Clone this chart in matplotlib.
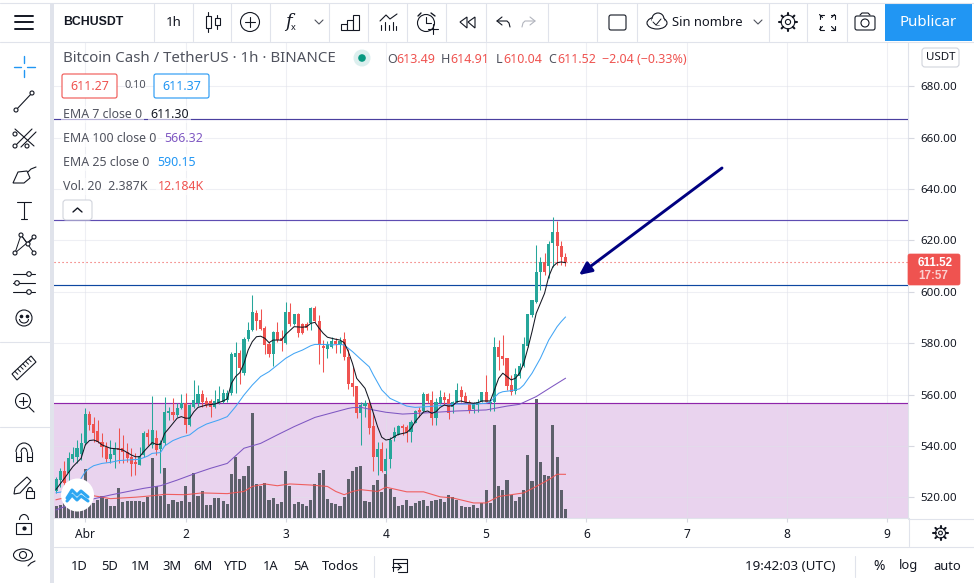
import numpy as np
import matplotlib
matplotlib.use("Agg")
import matplotlib.pyplot as plt
from matplotlib.patches import Rectangle, Circle, FancyBboxPatch, Polygon, Ellipse, Arc

plt.rcParams['font.family'] = ['Noto Sans', 'DejaVu Sans']

# hourly candles, hour 0 = 1 April 00:00 UTC, first candle is hour -7
first_hour = -7
candle_open = [522.6,526.7,530.2,529.3,534.8,535.8,536.9,541.0,552.4,548.5,
    545.8,541.7,539.7,534.8,536.5,539.1,539.1,537.8,535.8,533.9,
    532.6,536.5,545.2,540.4,543.0,538.7,541.0,552.7,553.2,551.9,
    554.8,556.6,548.2,555.0,556.8,560.2,557.3,557.5,555.3,556.8,
    557.2,557.9,560.5,574.5,576.3,568.3,581.5,585.1,591.9,589.0,
    585.8,579.7,575.8,584.5,581.9,579.9,592.1,587.4,591.2,587.4,
    587.4,587.7,593.5,588.7,579.0,577.9,578.6,580.8,579.3,581.5,
    574.7,564.4,563.3,552.7,555.5,556.6,547.8,535.8,538.7,530.4,
    534.8,543.0,544.3,547.8,547.2,545.3,549.1,554.0,553.7,560.2,
    557.9,550.8,556.6,559.2,558.3,555.0,557.1,561.8,559.4,557.2,
    554.3,555.9,557.2,561.0,556.6,557.2,578.4,575.0,574.1,563.7,
    561.5,567.2,571.2,579.0,591.0,596.1,607.5,611.7,610.1,618.8,
    623.1,617.9,613.49]
candle_close = [527.0,530.2,525.5,535.4,536.9,539.1,541.3,552.4,548.2,544.9,
    541.4,539.5,534.8,536.9,538.9,538.4,537.5,535.2,533.0,533.0,
    536.1,545.2,543.6,546.2,538.4,541.0,553.2,553.7,552.0,554.8,
    556.6,548.2,556.0,557.9,560.2,557.1,555.9,555.3,557.5,558.3,
    560.7,560.7,575.7,576.3,570.2,581.6,585.1,592.1,588.7,585.4,
    579.3,575.6,584.5,581.2,581.0,592.2,587.4,591.2,584.1,583.8,
    586.0,593.8,588.7,579.7,578.0,579.7,581.0,579.7,581.0,574.7,
    564.1,563.1,552.7,556.0,556.6,546.8,535.8,538.7,530.2,534.8,
    542.3,545.3,547.8,546.8,545.2,549.4,553.7,553.2,560.2,557.5,
    550.8,557.0,559.2,557.9,552.7,557.2,561.8,559.2,557.2,554.0,
    556.3,557.2,561.0,557.2,557.2,578.4,574.7,573.7,563.3,561.1,
    568.0,571.1,579.7,591.3,596.8,607.8,611.4,607.8,618.6,623.1,
    617.8,613.4,611.52]
candle_high = [528.0,531.5,534.1,537.8,539.7,542.3,544.9,554.6,553.7,551.4,
    550.1,544.9,541.7,542.3,541.7,546.8,544.3,541.0,539.1,537.1,
    539.7,546.0,546.5,559.4,546.2,542.3,559.2,555.3,558.5,556.6,
    560.1,560.5,556.3,565.7,563.6,561.8,559.2,558.1,561.8,563.5,
    562.3,561.8,576.7,580.3,577.3,582.3,588.4,598.7,592.9,593.3,
    586.7,580.6,584.9,588.4,585.1,596.0,595.7,591.2,591.6,588.0,
    588.4,593.9,594.5,590.9,581.2,581.0,582.5,582.1,582.3,584.5,
    577.6,570.8,563.3,557.2,557.9,557.9,552.7,541.7,541.7,539.1,
    543.4,547.5,548.2,548.5,548.2,550.1,554.0,555.0,561.1,560.7,
    561.5,558.8,561.8,561.1,560.7,557.6,564.6,563.3,561.1,557.9,
    557.2,558.1,561.0,567.6,558.1,582.3,581.2,583.2,574.1,567.6,
    570.2,572.1,582.5,591.3,596.8,618.2,613.6,614.9,619.9,629.2,
    627.7,619.9,614.91]
candle_low = [521.6,524.2,524.2,525.5,533.9,533.2,534.5,540.4,546.2,541.7,
    541.0,535.8,533.9,533.2,531.5,533.2,533.2,533.9,528.3,528.7,
    532.6,535.8,540.4,539.1,536.5,529.6,540.4,550.1,550.1,551.4,
    554.3,544.9,547.8,554.6,555.5,555.3,555.0,551.4,554.6,556.3,
    556.6,557.2,559.8,560.5,564.1,567.6,581.0,584.9,585.1,585.1,
    575.8,574.5,571.1,580.6,577.1,579.7,586.7,587.0,582.3,583.6,
    585.1,585.1,588.4,571.9,568.9,574.1,578.0,576.3,576.0,573.4,
    562.2,559.4,550.8,540.4,551.4,544.7,530.4,528.7,530.0,529.1,
    531.3,542.1,544.3,544.3,541.7,541.7,548.8,551.1,553.2,556.6,
    548.2,548.2,556.3,556.0,550.4,552.7,556.6,557.2,556.6,552.9,
    552.7,553.3,557.0,557.0,553.7,553.7,569.6,571.5,561.8,559.8,
    560.2,566.3,570.8,578.6,590.3,595.8,600.7,606.5,605.2,609.8,
    610.4,610.4,610.04]
volume = [3.3,3.7,4.7,5.1,6.0,7.0,7.9,13.7,7.0,4.2,
    5.1,6.0,5.3,3.3,3.3,8.4,4.4,4.8,4.8,4.8,
    4.7,4.5,5.8,16.7,8.8,6.2,14.0,4.0,5.1,4.4,
    4.8,8.8,4.5,12.6,6.0,7.6,3.5,3.5,5.6,5.6,
    4.7,3.9,12.4,17.0,11.0,11.8,14.4,29.3,9.6,9.0,
    9.8,5.1,5.6,4.0,4.4,13.2,9.0,4.0,4.4,4.0,
    3.4,5.1,9.6,12.6,13.5,5.4,4.2,4.0,3.4,5.8,
    11.0,13.2,14.1,14.4,4.8,4.4,9.3,10.7,7.2,12.4,
    8.1,5.8,3.3,3.5,5.1,3.3,4.2,4.7,5.1,3.4,
    4.8,5.1,5.4,4.4,6.5,5.8,5.1,3.4,3.0,3.0,
    3.5,2.9,4.2,7.9,4.2,26.0,9.0,7.9,10.7,6.5,
    4.8,5.8,7.9,17.7,10.4,33.3,15.7,11.9,11.6,26.0,
    16.9,7.9,2.387]

# moving averages: candle number, value
ema7_idx = [0,2,4,6,7,8,9,10,11,13,15,16,18,19,20,21,23,24,25,26,27,29,30,31,32,33,34,36,38,40,41,42,43,44,45,46,47,48,49,50,51,52,54,55,56,57,59,60,61,62,63,64,65,67,68,69,70,71,
    72,73,74,75,76,77,78,79,80,81,82,84,85,86,87,88,89,90,91,92,93,94,95,96,97,98,100,101,102,104,105,106,107,108,109,110,111,112,113,114,115,116,117,118,119,120,121,122]
ema7 = [523.1,527.4,531.9,535.2,540.4,542.1,542.3,541.7,540.4,539.1,538.8,538.4,536.5,535.8,535.8,537.8,541.3,540.6,540.6,544.9,546.8,550.8,551.4,550.8,550.8,553.3,555.0,555.9,556.3,557.5,558.3,564.4,567.0,568.5,572.1,577.3,580.6,582.5,582.7,581.9,580.2,581.2,581.2,583.4,584.9,586.4,586.2,586.4,587.7,588.1,585.8,583.8,582.3,581.5,581.2,580.2,576.7,572.1,
    566.3,564.4,562.4,557.9,552.7,547.5,543.4,542.3,542.6,543.6,544.5,545.2,546.8,549.4,551.4,553.2,553.6,552.7,553.3,555.0,555.9,555.5,555.7,557.2,557.5,557.0,556.6,556.8,557.5,557.5,561.8,566.3,568.3,567.0,565.7,566.3,568.3,572.1,578.0,584.5,591.6,595.5,599.4,605.9,609.8,611.3,611.6,611.30]
ema25_idx = [0,5,6,7,8,9,11,13,15,17,20,22,23,25,26,28,30,32,34,36,39,41,43,45,47,49,51,53,55,57,59,61,62,64,66,68,69,71,73,75,76,78,80,82,84,86,89,92,96,100,103,104,106,107,109,111,112,114,116,118,120,121,122]
ema25 = [521.8,522.9,527.4,530.0,531.3,532.3,533.2,533.6,534.3,534.5,534.8,536.1,537.1,537.4,540.0,542.1,543.4,544.3,546.8,548.5,550.1,551.4,555.3,559.8,563.7,567.0,568.9,571.5,574.1,576.0,577.3,579.0,579.5,579.5,579.3,579.5,579.3,576.7,573.7,570.8,567.6,561.8,558.5,557.0,555.5,555.0,555.3,555.7,556.3,556.3,556.6,557.2,560.5,561.1,561.5,562.2,563.7,568.3,574.1,581.2,586.4,588.4,590.15]
ema100_idx = [0,3,9,13,17,21,25,29,33,37,41,45,49,53,57,62,67,70,71,73,76,79,83,89,96,103,108,111,115,119,122]
ema100 = [515.1,517.0,519.4,520.9,522.2,523.5,524.5,526.7,529.1,531.3,533.2,539.1,541.0,544.3,547.5,551.1,553.3,554.6,554.9,555.0,554.0,553.1,552.4,552.9,553.6,554.0,555.5,556.2,559.2,563.3,566.32]
vol_ma_idx = [0,3,9,13,19,23,26,31,35,41,45,47,50,53,56,61,65,67,69,71,73,77,79,84,88,92,95,100,103,106,109,112,115,118,120,122]
vol_ma = [5.1,5.9,6.2,5.4,5.8,6.2,6.6,6.5,7.0,6.8,7.4,8.8,9.5,9.0,9.5,9.2,8.8,7.4,6.5,7.4,7.9,7.4,8.6,7.3,7.3,5.9,5.6,4.2,4.2,6.0,6.5,7.0,8.8,10.7,12.2,12.184]

price_ticks = [520, 540, 560, 580, 600, 620, 640, 660, 680]
day_labels = ["Abr", "2", "3", "4", "5", "6", "7", "8", "9"]
hlines = [(667.1, "#4a3f9f"), (627.8, "#5e4db2"), (602.8, "#0d47a1")]
zone_top = 556.6
last_price = 611.52

C_UP = "#26a69a"
C_DOWN = "#ef5350"
C_TXT = "#131722"
C_GREY = "#50535e"
C_LINE = "#e0e3eb"
ILW = 0.8

fig = plt.figure(figsize=(9.74, 5.83), dpi=100)
W, H = 974, 583
box = [54 / W, 1 - 518 / H, (908 - 54) / W, (518 - 42) / H]

hours = first_hour + np.arange(len(candle_open))
opens, closes = np.array(candle_open), np.array(candle_close)
highs, lows = np.array(candle_high), np.array(candle_low)
up = closes >= opens
xlim = (-7.5, 197.05)
ylim = (511.95, 697.2)

# back axes: grid, zone, price and date scale
ax = fig.add_axes(box)
ax.set_xlim(xlim)
ax.set_ylim(ylim)
ax.axhspan(ylim[0], zone_top, color="#e9d3ee", lw=0, zorder=2)
ax.set_yticks(price_ticks)
ax.set_yticklabels(["%.2f" % p for p in price_ticks])
ax.yaxis.tick_right()
ax.set_xticks(np.arange(len(day_labels)) * 24)
ax.set_xticklabels(day_labels)
ax.grid(True, color="#dfe1ea", alpha=0.5, lw=0.8, zorder=3)
ax.set_axisbelow(False)
ax.tick_params(axis="y", length=4, width=0.8, color="#d6d8e0", labelsize=8.3, labelcolor=C_TXT, pad=5)
ax.tick_params(axis="x", length=3, width=0.8, color="#d6d8e0", labelsize=8.6, labelcolor=C_TXT, pad=4)
for name, sp in ax.spines.items():
    sp.set_visible(name in ("right", "bottom"))
    sp.set_color(C_LINE)
    sp.set_linewidth(0.8)

# volume
vol_ax = fig.add_axes(box)
vol_ax.patch.set_visible(False)
vol_ax.axis("off")
vol_ax.set_xlim(xlim)
vol_ax.set_ylim(0, 132.8)
vol_ax.bar(hours, volume, width=0.74, color="#5d606b", lw=0)
vol_ax.plot(np.array(vol_ma_idx) + first_hour, vol_ma, color="#ef5350", lw=0.8, alpha=0.9)

# candles, lines
pax = fig.add_axes(box)
pax.patch.set_visible(False)
pax.axis("off")
pax.set_xlim(xlim)
pax.set_ylim(ylim)
pax.axhline(zone_top, color="#8e24aa", lw=0.85, zorder=1)
for level, col in hlines:
    pax.axhline(level, color=col, lw=0.85, zorder=1)
pax.axhline(last_price, color=C_DOWN, lw=0.8, ls=(0, (1, 2.6)), zorder=1)
colors = [C_UP if u else C_DOWN for u in up]
pax.vlines(hours, lows, highs, colors=colors, lw=0.75, zorder=2)
pax.bar(hours, np.maximum(np.abs(closes - opens), 0.4), bottom=np.minimum(opens, closes),
        width=0.74, color=colors, lw=0, zorder=3)
pax.plot(np.array(ema100_idx) + first_hour, ema100, color="#7e57c2", lw=0.75, zorder=4)
pax.plot(np.array(ema25_idx) + first_hour, ema25, color="#42a5f5", lw=0.75, zorder=4)
pax.plot(np.array(ema7_idx) + first_hour, ema7, color="#131722", lw=0.75, zorder=5)

# screen furniture in pixel coordinates
ui = fig.add_axes([0, 0, 1, 1])
ui.patch.set_visible(False)
ui.axis("off")
ui.set_xlim(0, W)
ui.set_ylim(H, 0)


def txt(x, y, s, size=8.8, color=C_TXT, ha="left", **kw):
    return ui.text(x, y, s, fontsize=size, color=color, ha=ha, va="center", **kw)


def line(xs, ys, color=C_TXT, lw=ILW, **kw):
    ui.plot(xs, ys, color=color, lw=lw, solid_capstyle="round", **kw)


def rbox(x, y, w, h, ec=C_TXT, fc="none", lw=ILW, r=2):
    ui.add_patch(FancyBboxPatch((x + r, y + r), w - 2 * r, h - 2 * r, boxstyle="round,pad=%d,rounding_size=%d" % (r, r),
                                ec=ec, fc=fc, lw=lw))


def circ(x, y, r, fc="none", ec=C_TXT, lw=ILW, **kw):
    ui.add_patch(Circle((x, y), r, fc=fc, ec=ec, lw=lw, **kw))


def gear(x, y, r):
    # ring with eight short teeth
    circ(x, y, r, fc="white")
    circ(x, y, r * 0.38)
    for a in np.arange(8) * np.pi / 4:
        line([x + r * np.cos(a), x + (r + 2.2) * np.cos(a)], [y + r * np.sin(a), y + (r + 2.2) * np.sin(a)], C_TXT, 1.5)


# frame
ui.add_patch(Rectangle((0, 0), W, 42, fc="white", ec="none"))
ui.add_patch(Rectangle((0, 42), 50, H, fc="white", ec="none"))
ui.add_patch(Rectangle((50, 3), 4, H, fc="#e0e3eb", ec="none"))
line([0, W], [2.5, 2.5], C_LINE)
line([0, W], [41.5, 41.5], C_LINE)
line([54, W], [546.5, 546.5], C_LINE)
for x in [154, 193, 231, 270, 329, 368, 407, 446, 486, 548, 597, 637, 769, 807, 847]:
    line([x, x], [3, 41], C_LINE)
line([908.5, 908.5], [518, 546], C_LINE)
line([908, W], [518.5, 518.5], C_LINE)
line([0, 50], [342, 342], C_LINE)
line([0, 50], [427, 427], C_LINE)
ui.add_patch(Rectangle((885, 3), 87, 38, fc="#2196f3", ec="none"))
txt(928, 22, "Publicar", 10.8, "white", ha="center")

# top bar
for y in [15.5, 22, 28.5]:
    line([15, 33], [y, y], C_TXT, 1.4)
txt(63, 22, "BCHUSDT", 8.8, C_TXT, fontweight="bold", family="Liberation Sans")
txt(174, 22, "1h", 9.5, ha="center")
for x, y0, y1, b0, b1 in [(208, 12, 32, 16, 28), (217, 15, 29, 18, 25)]:
    line([x, x], [y0, y1])
    ui.add_patch(Rectangle((x - 2.5, b0), 5, b1 - b0, fc="white", ec=C_TXT, lw=ILW, zorder=3))
circ(250, 22, 9.5)
line([245, 255], [22, 22])
line([250, 250], [17, 27])
txt(288, 22, "f", 13, ha="center", style="italic", family="DejaVu Serif")
txt(293, 27, "x", 6.5, ha="center")
line([315, 319, 323], [20, 24, 20], C_GREY)
for x, h in [(341, 6), (347, 10), (353, 15)]:
    ui.add_patch(Rectangle((x, 30 - h), 6, h, fc="white", ec=C_TXT, lw=ILW))
line([380, 386, 390, 397], [21, 15, 19, 14])
for x, h in [(381, 5), (385, 8), (389, 5), (393, 8), (396, 4)]:
    line([x, x], [30 - h, 30])
circ(426, 23, 8.5)
line([426, 426, 431], [17, 23, 23])
line([418, 421], [16, 13], C_TXT, 1.0)
line([431, 435], [13, 16], C_TXT, 1.0)
line([428, 438], [29, 29], zorder=5)
line([433, 433], [24, 34], zorder=5)
ui.add_patch(Polygon([(467, 17), (460, 22), (467, 28)], fc="none", ec=C_TXT, lw=ILW))
ui.add_patch(Polygon([(475, 17), (468, 22), (475, 28)], fc="none", ec=C_TXT, lw=ILW))
for x0, sgn, col in [(497, 1, C_TXT), (535, -1, "#b2b5be")]:
    line([x0 + sgn * 5, x0, x0 + sgn * 5], [17, 21, 25], col)
    line([x0, x0 + sgn * 10, x0 + sgn * 12, x0 + sgn * 13], [21, 21, 23, 27], col)
rbox(609, 15, 17, 15, r=2)
ui.add_patch(Ellipse((657, 23), 20, 12, fc="none", ec=C_TXT, lw=ILW))
ui.add_patch(Ellipse((658, 19), 12, 12, fc="white", ec=C_TXT, lw=ILW))
ui.add_patch(Rectangle((652, 19), 12, 6, fc="white", ec="none"))
line([653, 656, 661], [22, 25, 19], C_TXT, 0.7)
txt(672, 22, "Sin nombre", 9.3)
line([754, 758, 762], [20, 24, 20], C_GREY)
gear(788, 22, 6.8)
for sx, sy in [(-1, -1), (1, -1), (-1, 1), (1, 1)]:
    cx, cy = 827 + sx * 7.5, 22 + sy * 7.5
    line([cx - sx * 4, cx, cx], [cy, cy, cy - sy * 4])
    line([cx, cx - sx * 3], [cy, cy - sy * 3])
rbox(855, 16, 20, 14, r=2)
circ(865, 23, 4)
line([860, 862, 868, 870], [15, 13, 13, 15])

# left toolbar
line([24, 24], [56, 63], "#2196f3", 1.0)
line([24, 24], [70, 77], "#2196f3", 1.0)
line([14, 21], [66.5, 66.5], "#2196f3", 1.0)
line([27, 35], [66.5, 66.5], "#2196f3", 1.0)
line([16, 32], [110, 93])
circ(16, 110, 2, fc="white", zorder=4)
circ(32, 93, 2, fc="white", zorder=4)
line([15, 34], [129, 146])
line([15, 32], [146, 129])
line([21, 36], [147, 132])
for px_, py_ in [(15, 134), (15, 146), (27, 146)]:
    circ(px_, py_, 2, fc="white", zorder=4)
ui.add_patch(Polygon([(13, 183), (18, 172), (27, 171), (30, 178), (24, 183)], fc="none", ec=C_TXT, lw=ILW))
line([28, 31, 36], [172, 169, 167])
line([17, 31], [202, 202])
line([24, 24], [202, 219])
line([21, 27], [219, 219])
line([15, 21, 28, 34, 15], [253, 235, 244, 237, 253], C_TXT, 0.7)
line([21, 34], [235, 253], C_TXT, 0.7)
for px_, py_ in [(15, 253), (21, 235), (28, 244), (34, 237), (34, 253)]:
    circ(px_, py_, 2, fc="white", zorder=4)
for y_, x_ in [(274, 29), (283, 17), (292, 29)]:
    line([13, 35], [y_, y_])
    circ(x_, y_, 2.3, fc="white", zorder=4)
circ(24, 318, 8)
ui.plot([21, 27], [316, 316], ls="none", marker="o", ms=1.6, color=C_TXT)
ui.add_patch(Arc((24, 319), 9, 8, theta1=0, theta2=180, ec=C_TXT, lw=ILW))
ui.add_patch(Polygon([(12, 374), (31, 356), (36, 362), (17, 380)], fc="none", ec=C_TXT, lw=ILW))
for t in np.linspace(0.15, 0.85, 6):
    ax_, ay_ = 12 + 19 * t, 374 - 18 * t
    line([ax_, ax_ + 3], [ay_, ay_ + 3], C_TXT, 0.7)
circ(23, 401, 7.5)
line([19, 27], [401, 401])
line([23, 23], [397, 405])
line([29, 34], [407, 412])
ui.add_patch(Arc((24, 452), 16, 18, theta1=180, theta2=360, ec=C_TXT, lw=ILW))
ui.add_patch(Arc((24, 452), 6, 8, theta1=180, theta2=360, ec=C_TXT, lw=ILW))
line([16, 16, 21, 21], [452, 461, 461, 452])
line([27, 27, 32, 32], [452, 461, 461, 452])
line([16, 21], [457, 457])
line([27, 32], [457, 457])
ui.add_patch(Polygon([(14, 494), (15, 488), (27, 477), (31, 481), (20, 493)], fc="none", ec=C_TXT, lw=ILW))
ui.add_patch(Rectangle((26, 491), 8, 7, fc="white", ec=C_TXT, lw=ILW))
ui.add_patch(Arc((30, 491), 5, 7, theta1=180, theta2=360, ec=C_TXT, lw=ILW))
ui.add_patch(Rectangle((16, 523), 15, 11, fc="white", ec=C_TXT, lw=ILW))
ui.add_patch(Arc((24, 520), 9, 11, theta1=180, theta2=360, ec=C_TXT, lw=ILW))
ui.plot([24], [528], marker="o", ms=2, color=C_TXT)
ui.add_patch(Ellipse((23, 555), 19, 12, fc="none", ec=C_TXT, lw=ILW))
circ(23, 555, 3.5)
line([28, 31, 35], [566, 563, 561])

# header and legend
txt(63, 59, "Bitcoin Cash / TetherUS · 1h · BINANCE", 10.8, C_GREY)
circ(362, 58, 8.5, fc="#dcefee", ec="none")
circ(362, 58, 3.8, fc="#089981", ec="none")
for x, lab, val in [(387, "O", "613.49"), (441, "H", "614.91"), (496, "L", "610.04"), (548, "C", "611.52")]:
    txt(x, 59.5, lab, 9, C_GREY)
    txt(x + 9 if lab != "L" else x + 7, 59.5, val, 9, C_DOWN)
txt(602, 59.5, "−2.04 (−0.33%)", 9, C_DOWN)
rbox(62, 74, 55, 24, ec=C_DOWN, fc="white", r=2)
txt(89.5, 86, "611.27", 9, C_DOWN, ha="center")
txt(135.5, 86, "0.10", 8, C_GREY, ha="center")
rbox(154, 74, 55, 24, ec="#2196f3", fc="white", r=2)
txt(181.5, 86, "611.37", 9, "#2196f3", ha="center")
bg = dict(fc="white", ec="none", alpha=0.6, pad=1.5)
for y, lab, x, val, col in [(114.5, "EMA 7 close 0", 150, "611.30", C_TXT),
                            (138.5, "EMA 100 close 0", 164, "566.32", "#7e57c2"),
                            (162.5, "EMA 25 close 0", 157, "590.15", "#2196f3"),
                            (186.5, "Vol. 20  2.387K", 158, "12.184K", C_DOWN)]:
    txt(63, y, lab, 8.9, C_GREY, bbox=bg)
    txt(x, y, val, 8.9, col, bbox=bg)
rbox(63, 200, 29, 20, ec="#d1d4dc", fc="white", r=3)
line([73, 77.5, 82], [212, 208, 212], C_TXT, 1.0)

# scale badges
rbox(922, 48, 37, 19, ec="#d1d4dc", fc="white", r=3)
txt(940.5, 57.5, "USDT", 8.3, ha="center")
rbox(908, 254, 52, 31, ec=C_DOWN, fc=C_DOWN, lw=0.5, r=2)
txt(935, 262.5, "611.52", 8.4, "white", ha="center", fontweight="bold", family="Liberation Sans")
txt(933, 276, "17:57", 8.4, "#fbd0cf", ha="center", fontweight="bold", family="Liberation Sans")

# arrow
ui.annotate("", xy=(579, 275), xytext=(722, 168),
            arrowprops=dict(arrowstyle="-|>,head_length=0.75,head_width=0.35", color="#000080", lw=2.1, shrinkA=0, shrinkB=0))

# watermark logo
circ(77.5, 495, 16.5, fc="white", ec="none", zorder=6)
line([67, 72, 77, 81, 88], [498, 490, 495, 491, 497], "#2ea7f2", 2.2, zorder=7)
line([67, 72, 77, 81, 88], [501, 495, 500, 496, 501], "#2ea7f2", 2.2, zorder=7)

# gear, bottom bar
gear(940.5, 533, 5)
for x, lab in [(71, "1D"), (101, "5D"), (131, "1M"), (162, "3M"), (193, "6M"), (224, "YTD"),
               (263, "1A"), (293, "5A"), (322, "Todos")]:
    txt(x, 566, lab, 9.3)
line([374, 374], [556, 577], C_LINE)
line([393, 393, 407, 407, 398], [571, 559, 559, 572, 572])
line([393, 407], [563, 563])
line([392, 401], [567, 567])
line([398, 401, 398], [564, 567, 570])
line([855, 855], [556, 577], C_LINE)
txt(745, 566, "19:42:03 (UTC)", 9.7)
txt(879, 566, "%", 10, ha="center")
txt(909, 566, "log", 9.3, ha="center")
txt(947, 566, "auto", 9.3, ha="center")

fig.savefig("out.png", dpi=100)
